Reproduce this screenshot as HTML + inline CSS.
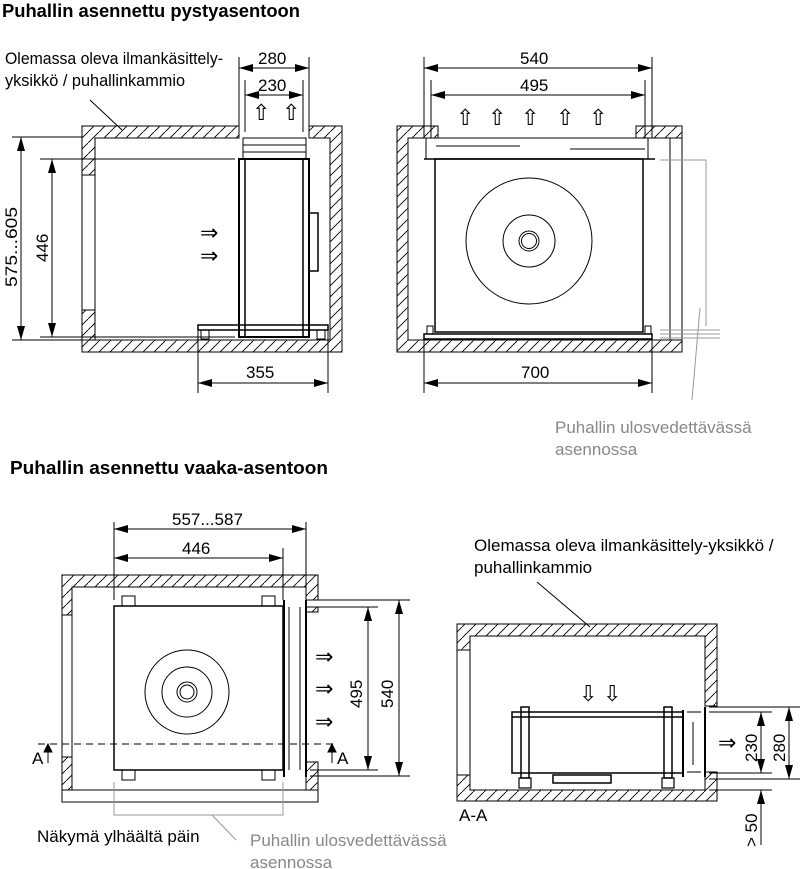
<!DOCTYPE html>
<html><head><meta charset="utf-8">
<style>
html,body{margin:0;padding:0;background:#fff;}
svg{display:block;}
text{font-family:"Liberation Sans Narrow","Liberation Sans",sans-serif;fill:#000;}
.t{font-size:17px;}
.a{font-size:22px;}
.h{font-size:18px;font-weight:bold;}
.g{fill:#888;}
</style></head><body>
<svg width="800" height="869" viewBox="0 0 800 869" xmlns="http://www.w3.org/2000/svg">
<defs>
<pattern id="hp" patternUnits="userSpaceOnUse" width="11" height="11">
<path d="M-1,12 L12,-1" stroke="#000" stroke-width="0.9"/>
</pattern>
<marker id="ae" markerWidth="14" markerHeight="8" refX="14" refY="4" orient="auto" markerUnits="userSpaceOnUse"><path d="M0,0 L14,4 L0,8 z" fill="#000"/></marker>
<marker id="as" markerWidth="14" markerHeight="8" refX="0" refY="4" orient="auto" markerUnits="userSpaceOnUse"><path d="M14,0 L0,4 L14,8 z" fill="#000"/></marker>
</defs>

<text class="h" x="2" y="17" textLength="298" lengthAdjust="spacingAndGlyphs">Puhallin asennettu pystyasentoon</text>
<text class="h" x="10" y="474" textLength="318" lengthAdjust="spacingAndGlyphs">Puhallin asennettu vaaka-asentoon</text>

<!-- ============ TOP LEFT ============ -->
<text class="t" x="5" y="64" textLength="218" lengthAdjust="spacingAndGlyphs">Olemassa oleva ilmankäsittely-</text>
<text class="t" x="5" y="86" textLength="180" lengthAdjust="spacingAndGlyphs">yksikkö / puhallinkammio</text>
<line x1="90" y1="100" x2="122" y2="130" stroke="#000"/>
<g stroke="#000" stroke-width="1" fill="url(#hp)">
<path d="M82,126 H239 V138 H95 V175 H82 Z"/>
<path d="M309,126 H342 V352 H82 V310 H95 V340 H330 V138 H309 Z"/>
</g>
<g stroke="#000" fill="none">
<line x1="82" y1="175" x2="82" y2="310"/>
<line x1="95" y1="175" x2="95" y2="310"/>
<line x1="239" y1="57" x2="239" y2="132"/><line x1="245" y1="80" x2="245" y2="132"/>
<line x1="303" y1="80" x2="303" y2="132"/><line x1="309" y1="57" x2="309" y2="132"/>
<rect x="243" y="138" width="63" height="21"/>
<line x1="243" y1="145" x2="306" y2="145"/><line x1="243" y1="152" x2="306" y2="152"/>
<rect x="239" y="159" width="70" height="178" stroke-width="2"/>
<line x1="245" y1="159" x2="245" y2="337" stroke-width="1.5"/><line x1="303" y1="159" x2="303" y2="337" stroke-width="1.5"/>
<rect x="309" y="213" width="9" height="58" stroke-width="1.5"/>
<rect x="198" y="325" width="130" height="5" stroke-width="1.5"/>
<rect x="201" y="330" width="8" height="9"/><rect x="317" y="330" width="8" height="9"/>
<line x1="12" y1="137" x2="82" y2="137"/><line x1="12" y1="340" x2="235" y2="340"/>
<line x1="40" y1="159" x2="235" y2="159"/><line x1="40" y1="337" x2="235" y2="337"/>
<line x1="21" y1="137" x2="21" y2="340" marker-start="url(#as)" marker-end="url(#ae)"/>
<line x1="52" y1="159" x2="52" y2="337" marker-start="url(#as)" marker-end="url(#ae)"/>
<line x1="198" y1="330" x2="198" y2="393"/><line x1="328" y1="330" x2="328" y2="393"/>
<line x1="198" y1="383" x2="328" y2="383" marker-start="url(#as)" marker-end="url(#ae)"/>
<line x1="239" y1="68" x2="309" y2="68" marker-start="url(#as)" marker-end="url(#ae)"/>
<line x1="245" y1="95" x2="303" y2="95" marker-start="url(#as)" marker-end="url(#ae)"/>
</g>
<text class="t" x="258" y="64">280</text>
<text class="t" x="258" y="91">230</text>
<text class="t" x="246" y="378">355</text>
<text class="t" transform="translate(17,287) rotate(-90)" textLength="80" lengthAdjust="spacingAndGlyphs">575...605</text>
<text class="t" transform="translate(48,262) rotate(-90)">446</text>
<text class="a" x="252" y="120">⇧</text><text class="a" x="282" y="120">⇧</text>
<text class="a" x="200" y="240">⇒</text><text class="a" x="200" y="263">⇒</text>

<!-- ============ TOP RIGHT ============ -->
<g stroke="#000" stroke-width="1" fill="url(#hp)">
<path d="M397,126 H438 V138 H408 V340 H670 V138 H636 V126 H682 V352 H397 Z"/>
</g>
<g stroke="#000" fill="none">
<rect x="670" y="138" width="12" height="202" fill="#fff"/>
<line x1="424" y1="57" x2="424" y2="138"/><line x1="431" y1="80" x2="431" y2="138"/>
<line x1="645" y1="80" x2="645" y2="138"/><line x1="652" y1="57" x2="652" y2="138"/>
<rect x="426" y="138" width="222" height="21"/>
<line x1="436" y1="146" x2="520" y2="146"/><line x1="570" y1="149" x2="645" y2="149"/>
<line x1="424" y1="159" x2="655" y2="159" stroke-width="1.5"/>
<rect x="435" y="159" width="208" height="173" stroke-width="1.5"/>
<circle cx="529" cy="241" r="63"/><circle cx="529" cy="241" r="26"/>
<circle cx="529" cy="241" r="10"/><circle cx="529" cy="241" r="7.5"/>
<rect x="424" y="334" width="228" height="5" stroke-width="1.5"/>
<rect x="427" y="326" width="6" height="8"/><rect x="645" y="326" width="6" height="8"/>
<line x1="424" y1="340" x2="424" y2="393"/><line x1="652" y1="340" x2="652" y2="393"/>
<line x1="424" y1="383" x2="652" y2="383" marker-start="url(#as)" marker-end="url(#ae)"/>
<line x1="424" y1="68" x2="652" y2="68" marker-start="url(#as)" marker-end="url(#ae)"/>
<line x1="431" y1="95" x2="645" y2="95" marker-start="url(#as)" marker-end="url(#ae)"/>
</g>
<g stroke="#999" fill="none">
<polyline points="660,160 706,160 706,326"/>
<line x1="660" y1="330" x2="720" y2="330"/><line x1="660" y1="334" x2="720" y2="334"/><line x1="660" y1="338" x2="720" y2="338"/>
<line x1="700" y1="308" x2="692" y2="400"/>
</g>
<text class="t" x="520" y="64">540</text>
<text class="t" x="520" y="91">495</text>
<text class="t" x="521" y="378">700</text>
<text class="a" x="456" y="125">⇧</text><text class="a" x="488" y="125">⇧</text><text class="a" x="521" y="125">⇧</text><text class="a" x="556" y="125">⇧</text><text class="a" x="589" y="125">⇧</text>
<text class="t g" x="555" y="433">Puhallin ulosvedettävässä</text>
<text class="t g" x="555" y="455">asennossa</text>

<!-- ============ BOTTOM LEFT ============ -->
<g stroke="#000" stroke-width="1" fill="url(#hp)">
<path d="M62,575 H318 V600 H306 V587 H72 V615 H62 Z"/>
<path d="M62,757 H72 V790 H62 Z"/>
<path d="M306,607 H318 V612 H306 Z"/>
<path d="M306,762 H318 V790 H306 Z"/>
</g>
<g stroke="#000" fill="none">
<line x1="62" y1="615" x2="62" y2="757"/><line x1="72" y1="615" x2="72" y2="757"/>
<rect x="62" y="790" width="256" height="12"/>
<rect x="114" y="606" width="169" height="164" stroke-width="1.5"/>
<rect x="122" y="596" width="13" height="10"/><rect x="262" y="596" width="13" height="10"/>
<rect x="122" y="770" width="13" height="10"/><rect x="262" y="770" width="13" height="10"/>
<line x1="284" y1="600" x2="284" y2="777" stroke-width="2"/><line x1="306" y1="600" x2="306" y2="777" stroke-width="2"/>
<line x1="289" y1="607" x2="289" y2="770"/><line x1="300" y1="607" x2="300" y2="770"/>
<circle cx="187" cy="692" r="42"/><circle cx="187" cy="692" r="25"/>
<circle cx="187" cy="692" r="10"/><circle cx="187" cy="692" r="7"/>
<line x1="38" y1="744" x2="335" y2="744" stroke-dasharray="7,5"/>
<line x1="114" y1="522" x2="114" y2="600"/><line x1="306" y1="522" x2="306" y2="600"/><line x1="283" y1="548" x2="283" y2="600"/>
<line x1="114" y1="529" x2="306" y2="529" marker-start="url(#as)" marker-end="url(#ae)"/>
<line x1="114" y1="558" x2="283" y2="558" marker-start="url(#as)" marker-end="url(#ae)"/>
<line x1="310" y1="600" x2="410" y2="600"/><line x1="310" y1="607" x2="378" y2="607"/>
<line x1="310" y1="770" x2="378" y2="770"/><line x1="310" y1="776" x2="410" y2="776"/>
<line x1="368" y1="607" x2="368" y2="770" marker-start="url(#as)" marker-end="url(#ae)"/>
<line x1="399" y1="600" x2="399" y2="776" marker-start="url(#as)" marker-end="url(#ae)"/>
<line x1="48" y1="763" x2="48" y2="746"/><path d="M44,752 L48,744 L52,752 z" fill="#000"/>
<line x1="332" y1="763" x2="332" y2="746"/><path d="M328,752 L332,744 L336,752 z" fill="#000"/>
</g>
<g stroke="#999" fill="none">
<polyline points="114,782 114,815 283,815 283,782"/>
<line x1="212" y1="815" x2="236" y2="840"/>
</g>
<text class="t" x="172" y="525">557...587</text>
<text class="t" x="182" y="554">446</text>
<text class="t" transform="translate(362,708) rotate(-90)">495</text>
<text class="t" transform="translate(393,708) rotate(-90)">540</text>
<text class="a" x="315" y="664">⇒</text><text class="a" x="315" y="696">⇒</text><text class="a" x="315" y="729">⇒</text>
<text class="t" x="32" y="764">A</text><text class="t" x="337" y="764">A</text>
<text class="t" x="37" y="842">Näkymä ylhäältä päin</text>
<text class="t g" x="250" y="846">Puhallin ulosvedettävässä</text>
<text class="t g" x="250" y="868">asennossa</text>

<!-- ============ BOTTOM RIGHT ============ -->
<text class="t" x="474" y="551">Olemassa oleva ilmankäsittely-yksikkö /</text>
<text class="t" x="474" y="573">puhallinkammio</text>
<line x1="537" y1="582" x2="590" y2="627" stroke="#000"/>
<g stroke="#000" stroke-width="1" fill="url(#hp)">
<path d="M457,624 H717 V706 H705 V636 H470 V650 H457 Z"/>
<path d="M457,775 H470 V790 H705 V772 H717 V801 H457 Z"/>
</g>
<g stroke="#000" fill="none">
<line x1="457" y1="650" x2="457" y2="775"/><line x1="470" y1="650" x2="470" y2="775"/>
<rect x="512" y="712" width="171" height="61" stroke-width="1.5"/>
<line x1="512" y1="717" x2="683" y2="717" stroke-width="1.5"/>
<rect x="521" y="707" width="8" height="71" stroke-width="1.5"/>
<rect x="664" y="707" width="8" height="71" stroke-width="1.5"/>
<rect x="519" y="778" width="12" height="10" stroke-width="1.2"/><rect x="662" y="778" width="12" height="10" stroke-width="1.2"/>
<rect x="553" y="775" width="58" height="8" stroke-width="1.5"/>
<line x1="683" y1="710" x2="683" y2="777" stroke-width="2"/><line x1="705" y1="707" x2="705" y2="777" stroke-width="2"/>
<line x1="687" y1="712" x2="701" y2="712"/><line x1="687" y1="772" x2="701" y2="772"/>
<line x1="693" y1="722" x2="693" y2="765"/>
<line x1="709" y1="707" x2="800" y2="707"/><line x1="709" y1="712" x2="772" y2="712"/>
<line x1="709" y1="773" x2="772" y2="773"/><line x1="709" y1="779" x2="800" y2="779"/>
<line x1="709" y1="790" x2="772" y2="790"/>
<line x1="761" y1="712" x2="761" y2="773" marker-start="url(#as)" marker-end="url(#ae)"/>
<line x1="789" y1="707" x2="789" y2="779" marker-start="url(#as)" marker-end="url(#ae)"/>
<line x1="761" y1="845" x2="761" y2="790" marker-end="url(#ae)"/>
</g>
<text class="t" transform="translate(757,762) rotate(-90)">230</text>
<text class="t" transform="translate(785,762) rotate(-90)">280</text>
<text class="t" transform="translate(757,847) rotate(-90)">&gt; 50</text>
<text class="a" x="579" y="701">⇩</text><text class="a" x="603" y="701">⇩</text>
<text class="a" x="718" y="750">⇒</text>
<text class="t" x="459" y="821">A-A</text>
</svg>
</body></html>
